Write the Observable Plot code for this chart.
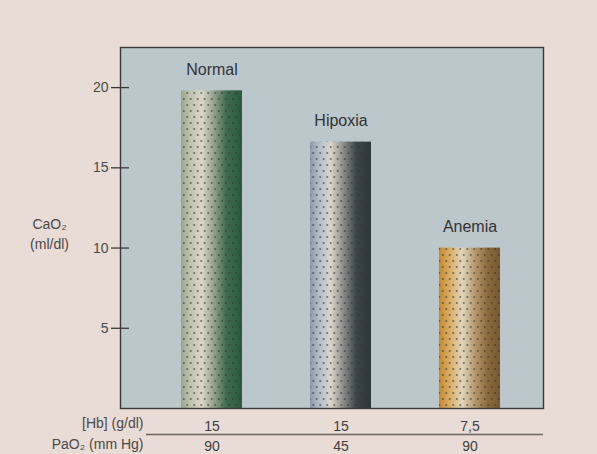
<!DOCTYPE html>
<html>
<head>
<meta charset="utf-8">
<script src="https://cdn.jsdelivr.net/npm/d3@7"></script>
<script src="https://cdn.jsdelivr.net/npm/@observablehq/plot@0.6"></script>
<style>
  html, body { margin: 0; padding: 0; background: #e9dbd5; }
  svg { display: block; }
</style>
</head>
<body>
<div id="chart"></div>
<script>
// Data
const categories = ["Normal", "Hipoxia", "Anemia"];
const cao2 = [19.8, 16.6, 10];          // CaO2 (ml/dl)
const hbLabels = ["15", "15", "7,5"];    // [Hb] (g/dl)
const paoLabels = ["90", "45", "90"];    // PaO2 (mm Hg)
const yTicks = [5, 10, 15, 20];

// Gradient stop colours per bar (cylinder shading)
const gradients = [
  [["0%", "#9da58f"], ["14%", "#bcc0ad"], ["34%", "#d9d7c8"], ["55%", "#8e9e87"], ["75%", "#3f6a4d"], ["100%", "#2b593c"]],
  [["0%", "#8c98aa"], ["14%", "#b2bbc6"], ["34%", "#d8d5cd"], ["55%", "#8a8b88"], ["76%", "#3b4448"], ["100%", "#2d373b"]],
  [["0%", "#c4872f"], ["14%", "#d6a656"], ["38%", "#e1d5bd"], ["60%", "#b29669"], ["80%", "#8a6a3e"], ["100%", "#785a30"]]
];

const data = categories.map((c, i) => ({cat: c, v: cao2[i], i}));
const font = "'Liberation Sans', Arial, Helvetica, sans-serif";

const svg = Plot.plot({
  width: 597,
  height: 454,
  marginLeft: 120,
  marginRight: 54,
  marginTop: 47,
  marginBottom: 46,
  style: {background: "#e9dbd5", fontFamily: font, color: "#444"},
  x: {domain: categories, paddingInner: 0.53, paddingOuter: 0.4, align: 0.58, axis: null},
  y: {domain: [0, 22.5], axis: null},
  marks: [
    Plot.frame({fill: "#bcc7cc", stroke: "none"}),
    ...data.map(d => Plot.barY([d], {x: "cat", y: "v", fill: `url(#grad${d.i})`})),
    Plot.barY(data, {x: "cat", y: "v", fill: "url(#dots)"}),
    Plot.frame({stroke: "#3a3a3a", strokeWidth: 1.4}),
    // y ticks crossing the axis line
    Plot.axisY({ticks: yTicks, tickSize: 18, dx: 9, tickFormat: () => "", stroke: "#3a3a3a", strokeWidth: 1.3, label: null}),
    Plot.axisY({ticks: yTicks, tickSize: 0, tickPadding: 12, fontSize: 14, fill: "#4a4a4a", label: null}),
    Plot.text(["CaO₂\n(ml/dl)"], {frameAnchor: "left", dx: -71, dy: 5, textAnchor: "middle", lineAnchor: "middle", lineHeight: 1.4, fontSize: 14, fill: "#4a4a4a"}),
    // bar labels
    Plot.text(data, {x: "cat", y: "v", text: "cat", dy: -16, lineAnchor: "bottom", fontSize: 16, fill: "#333"}),
    // table below the chart
    Plot.axisX({tickSize: 0, tickPadding: 13, fontSize: 14, fill: "#3f3f3f", label: null,
      tickFormat: d => hbLabels[categories.indexOf(d)]}),
    Plot.axisX({tickSize: 0, tickPadding: 33, fontSize: 14, fill: "#3f3f3f", label: null,
      tickFormat: d => paoLabels[categories.indexOf(d)]}),
    Plot.ruleY([0], {dy: 26, insetLeft: 26, stroke: "#6a6462", strokeWidth: 1.3}),
    Plot.text(["[Hb] (g/dl)"], {frameAnchor: "bottom-left", dx: 23, dy: 10, textAnchor: "end", lineAnchor: "top", fontSize: 14, fill: "#4a4a4a"}),
    Plot.text(["PaO₂ (mm Hg)"], {frameAnchor: "bottom-left", dx: 23, dy: 31, textAnchor: "end", lineAnchor: "top", fontSize: 14, fill: "#4a4a4a"})
  ]
});

const defs = d3.select(svg).insert("defs", ":first-child");
gradients.forEach((stops, i) => {
  const g = defs.append("linearGradient").attr("id", "grad" + i)
    .attr("x1", "0%").attr("x2", "100%").attr("y1", "0%").attr("y2", "0%");
  stops.forEach(([o, c]) => g.append("stop").attr("offset", o).attr("stop-color", c));
});
const pat = defs.append("pattern").attr("id", "dots")
  .attr("width", 7).attr("height", 12).attr("patternUnits", "userSpaceOnUse");
pat.append("circle").attr("cx", 1.75).attr("cy", 3).attr("r", 1.05).attr("fill", "#333").attr("fill-opacity", 0.6);
pat.append("circle").attr("cx", 5.25).attr("cy", 9).attr("r", 1.05).attr("fill", "#333").attr("fill-opacity", 0.6);

document.getElementById("chart").appendChild(svg);
</script>
</body>
</html>
